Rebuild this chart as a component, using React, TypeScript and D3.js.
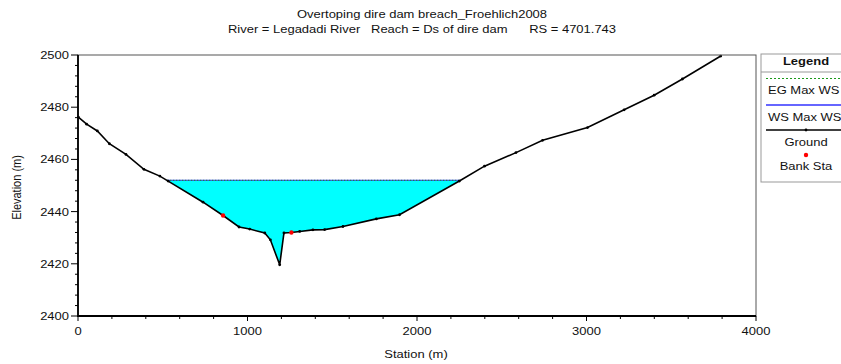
import { useEffect, useRef } from "react";
import * as d3 from "d3";

// ground profile (station m, elevation m)
const stations = [
  2, 51, 114, 185, 283, 389, 483, 532, 738, 856, 950, 1013, 1102, 1135, 1190,
  1215, 1259, 1308, 1386, 1455, 1563, 1760, 1897, 2250, 2398, 2584, 2741, 3006,
  3222, 3399, 3566, 3792,
];
const elevations = [
  2476.2, 2473.5, 2470.9, 2466.0, 2461.9, 2456.2, 2453.6, 2451.7, 2443.6,
  2438.5, 2434.1, 2433.3, 2431.8, 2429.2, 2419.6, 2431.8, 2432.0, 2432.4,
  2433.0, 2433.1, 2434.3, 2437.2, 2438.8, 2451.7, 2457.4, 2462.6, 2467.3,
  2472.2, 2479.0, 2484.6, 2490.8, 2499.6,
];
const bankStations = [856, 1259];
const wsElev = 2452.0; // max water surface
const egElev = 2452.0; // energy grade line

const xTicks = [0, 1000, 2000, 3000, 4000];
const yTicks = [2400, 2420, 2440, 2460, 2480, 2500];
const legendItems = ["EG Max WS", "WS Max WS", "Ground", "Bank Sta"];

const W = 841;
const H = 364;
const margin = { top: 55, right: 85, bottom: 48, left: 78 };
const font = "'Liberation Sans', Arial, sans-serif";
const stretch = 1.18; // the source picture is a bit wide, text looks stretched

type Sel = d3.Selection<any, unknown, null, undefined>;

function label(
  parent: Sel,
  x: number,
  y: number,
  txt: string,
  anchor = "start",
  size = 11,
  weight = "normal"
) {
  return parent
    .append("text")
    .attr("transform", `translate(${x},${y}) scale(${stretch},1)`)
    .attr("text-anchor", anchor)
    .attr("xml:space", "preserve")
    .style("white-space", "pre")
    .style("font", `${weight} ${size}px ${font}`)
    .attr("fill", "#111")
    .text(txt);
}

export default function App() {
  const ref = useRef<SVGSVGElement>(null);

  useEffect(() => {
    const svg = d3.select(ref.current) as Sel;
    svg.selectAll("*").remove();

    const x = d3.scaleLinear().domain([0, 4000]).range([margin.left, W - margin.right]);
    const y = d3.scaleLinear().domain([2400, 2500]).range([H - margin.bottom, margin.top]);

    const ground = stations.map((s, i) => ({ s, e: elevations[i] }));

    // water: find where ground crosses ws, fill between
    const wet: { s: number; e: number }[] = [];
    for (let i = 0; i < ground.length; i++) {
      const p = ground[i];
      if (i > 0) {
        const q = ground[i - 1];
        if ((q.e - wsElev) * (p.e - wsElev) < 0) {
          const t = (wsElev - q.e) / (p.e - q.e);
          wet.push({ s: q.s + t * (p.s - q.s), e: wsElev });
        }
      }
      if (p.e <= wsElev) wet.push(p);
    }
    const wsLeft = wet[0].s;
    const wsRight = wet[wet.length - 1].s;

    const area = d3
      .area<{ s: number; e: number }>()
      .x((d) => x(d.s))
      .y0(y(wsElev))
      .y1((d) => y(d.e));
    svg.append("path").attr("d", area(wet)).attr("fill", "#00ffff");

    // WS line + EG line
    svg
      .append("line")
      .attr("x1", x(wsLeft))
      .attr("x2", x(wsRight))
      .attr("y1", y(wsElev))
      .attr("y2", y(wsElev))
      .attr("stroke", "#3333ff")
      .attr("stroke-width", 1);
    svg
      .append("line")
      .attr("x1", x(wsLeft))
      .attr("x2", x(wsRight))
      .attr("y1", y(egElev))
      .attr("y2", y(egElev))
      .attr("stroke", "#1a8a1a")
      .attr("stroke-width", 1)
      .attr("stroke-dasharray", "1.5,1.5");

    // ground line
    const line = d3
      .line<{ s: number; e: number }>()
      .x((d) => x(d.s))
      .y((d) => y(d.e));
    svg
      .append("path")
      .attr("d", line(ground))
      .attr("fill", "none")
      .attr("stroke", "#000")
      .attr("stroke-width", 1.6);
    svg
      .selectAll("circle.gp")
      .data(ground)
      .join("circle")
      .attr("class", "gp")
      .attr("cx", (d) => x(d.s))
      .attr("cy", (d) => y(d.e))
      .attr("r", 1.4)
      .attr("fill", "#000");

    // bank stations
    svg
      .selectAll("circle.bank")
      .data(bankStations)
      .join("circle")
      .attr("class", "bank")
      .attr("cx", (d) => x(d))
      .attr("cy", (d) => y(elevations[stations.indexOf(d)]))
      .attr("r", 2.2)
      .attr("fill", "#ff0000");

    // frame
    svg
      .append("rect")
      .attr("x", x(0))
      .attr("y", y(2500))
      .attr("width", x(4000) - x(0))
      .attr("height", y(2400) - y(2500))
      .attr("fill", "none")
      .attr("stroke", "#555")
      .attr("stroke-width", 1);
    // thicker left and bottom axes
    svg
      .append("path")
      .attr("d", `M${x(0)},${y(2500)}V${y(2400)}H${x(4000)}`)
      .attr("fill", "none")
      .attr("stroke", "#000")
      .attr("stroke-width", 1.8);

    // x ticks
    const xMinor = d3.range(0, 4001, 200);
    svg
      .selectAll("line.xt")
      .data(xMinor)
      .join("line")
      .attr("class", "xt")
      .attr("x1", (d) => x(d))
      .attr("x2", (d) => x(d))
      .attr("y1", y(2400))
      .attr("y2", (d) => y(2400) + (d % 1000 === 0 ? 5 : 3))
      .attr("stroke", "#000");
    xTicks.forEach((d) => label(svg, x(d), y(2400) + 19, String(d), "middle"));

    // y ticks
    const yMinor = d3.range(2400, 2501, 4);
    svg
      .selectAll("line.yt")
      .data(yMinor)
      .join("line")
      .attr("class", "yt")
      .attr("x1", x(0))
      .attr("x2", (d) => x(0) - (d % 20 === 0 ? 7 : 3))
      .attr("y1", (d) => y(d))
      .attr("y2", (d) => y(d))
      .attr("stroke", "#000");
    yTicks.forEach((d) => label(svg, x(0) - 9, y(d) + 4, String(d), "end"));

    // axis titles
    svg
      .append("text")
      .attr("transform", `translate(21,${(y(2400) + y(2500)) / 2 + 2}) rotate(-90) scale(1,${stretch})`)
      .attr("text-anchor", "middle")
      .style("font", `11px ${font}`)
      .attr("fill", "#111")
      .text("Elevation (m)");
    label(svg, 416, 358, "Station (m)", "middle");

    // title
    label(svg, 422, 18, "Overtoping dire dam breach_Froehlich2008", "middle");
    label(svg, 422, 33, "River = Legadadi River   Reach = Ds of dire dam      RS = 4701.743", "middle");

    // legend
    const lg = svg.append("g").attr("transform", "translate(761,54)");
    lg.append("rect")
      .attr("x", 0)
      .attr("y", 0)
      .attr("width", 100)
      .attr("height", 128)
      .attr("fill", "#fff")
      .attr("stroke", "#999");
    lg.append("line")
      .attr("x1", 0)
      .attr("x2", 100)
      .attr("y1", 18)
      .attr("y2", 18)
      .attr("stroke", "#999");
    label(lg, 45, 11, "Legend", "middle", 11, "bold");
    const rowY = [24.5, 51, 76, 101];
    lg.append("line")
      .attr("x1", 5).attr("x2", 100).attr("y1", rowY[0]).attr("y2", rowY[0])
      .attr("stroke", "#1a9a1a").attr("stroke-dasharray", "2,2");
    lg.append("line")
      .attr("x1", 5).attr("x2", 100).attr("y1", rowY[1]).attr("y2", rowY[1])
      .attr("stroke", "#3333ff").attr("stroke-width", 1.6);
    lg.append("line")
      .attr("x1", 5).attr("x2", 100).attr("y1", rowY[2]).attr("y2", rowY[2])
      .attr("stroke", "#000").attr("stroke-width", 1.4);
    lg.append("circle").attr("cx", 45).attr("cy", rowY[2]).attr("r", 1.4).attr("fill", "#000");
    lg.append("circle").attr("cx", 45).attr("cy", rowY[3]).attr("r", 2.2).attr("fill", "#ff0000");
    const textY = [40, 66.5, 91.5, 115.5];
    legendItems.forEach((t, i) => {
      label(lg, i < 2 ? 7 : 45, textY[i], t, i < 2 ? "start" : "middle");
    });
  }, []);

  return (
    <div style={{ position: "fixed", left: 0, top: 0 }}>
      <svg ref={ref} width={W} height={H} style={{ display: "block", background: "#fff" }} />
    </div>
  );
}
